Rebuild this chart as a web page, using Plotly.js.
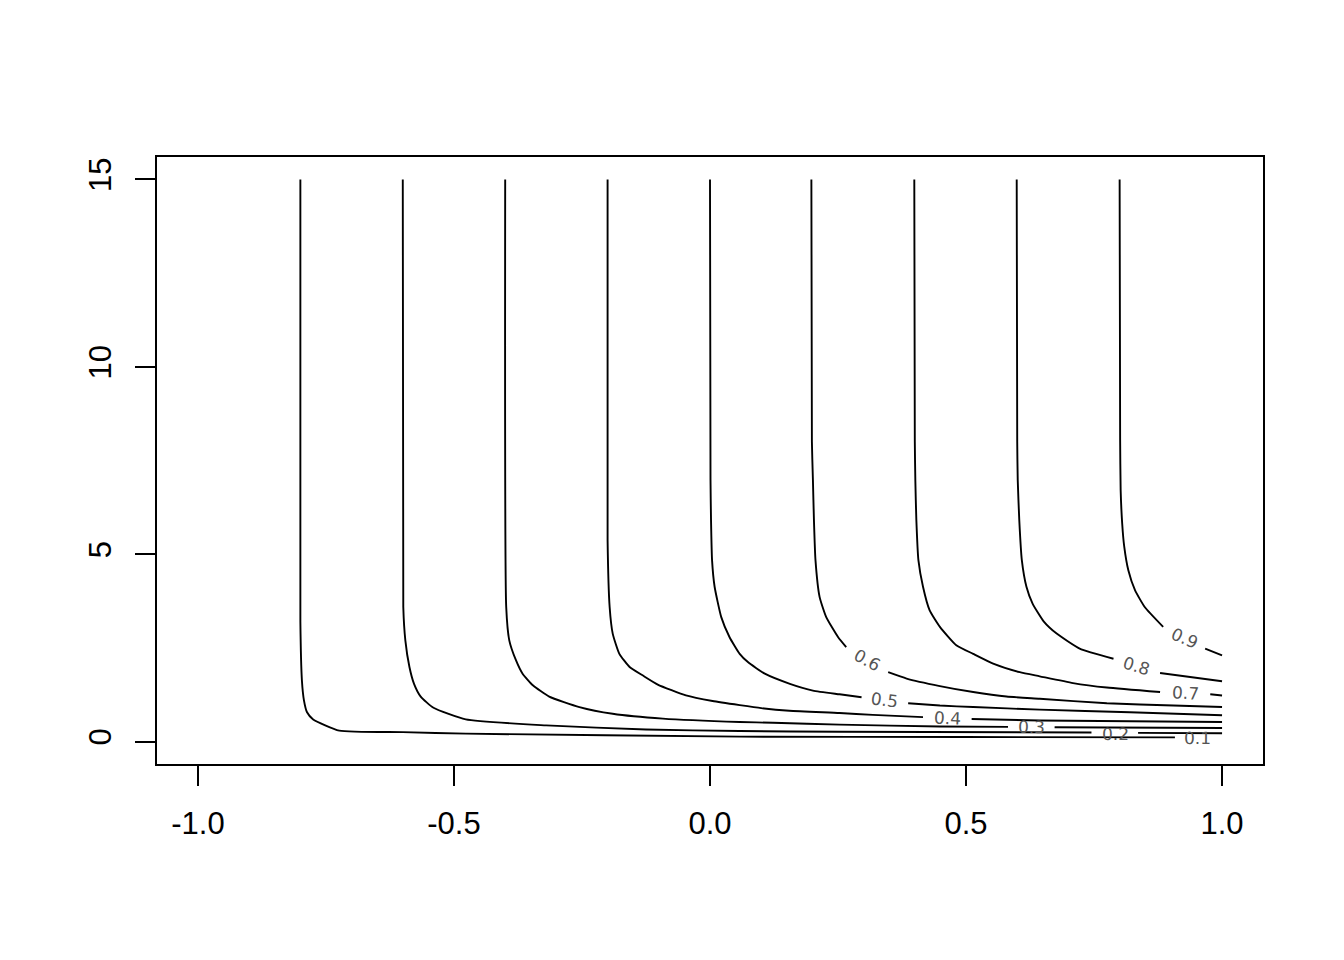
<!DOCTYPE html>
<html>
<head>
<meta charset="utf-8">
<script src="https://cdn.plot.ly/plotly-3.0.1.min.js"></script>
<style>
  html, body { margin: 0; padding: 0; background: #fff; }
  #chart { width: 1344px; height: 960px; }
</style>
</head>
<body>
<div id="chart"></div>
<script>
// contour levels and the points (null = label gap)
const levels = [0.1, 0.2, 0.3, 0.4, 0.5, 0.6, 0.7, 0.8, 0.9];

const x01 = [-0.800, -0.800, -0.797, -0.793, -0.787, -0.775, -0.724, -0.600, -0.477, 0.058, 0.500, 0.908];
const y01 = [15, 3.20, 1.63, 1.10, 0.78, 0.59, 0.29, 0.25, 0.21, 0.13, 0.12, 0.11];

const x02 = [-0.600, -0.599, -0.595, -0.587, -0.578, -0.565, -0.540, -0.477, -0.320, -0.125, 0.058, 0.253, 0.745, null, 0.836, 1.0];
const y02 = [15, 3.59, 2.70, 1.99, 1.54, 1.20, 0.90, 0.59, 0.43, 0.32, 0.28, 0.26, 0.24, null, 0.23, 0.22];

const x03 = [-0.400, -0.398, -0.392, -0.379, -0.366, -0.346, -0.314, -0.255, -0.190, -0.092, 0.058, 0.123, 0.253, 0.449, 0.582, null, 0.673, 1.0];
const y03 = [15, 3.59, 2.70, 2.17, 1.81, 1.50, 1.20, 0.92, 0.74, 0.61, 0.52, 0.50, 0.45, 0.40, 0.39, null, 0.38, 0.36];

const x04 = [-0.200, -0.200, -0.196, -0.190, -0.177, -0.157, -0.131, -0.102, -0.047, 0.005, 0.058, 0.100, 0.155, 0.253, 0.318, 0.416, null, 0.511, 0.644, 1.0];
const y04 = [15, 5.37, 3.59, 2.88, 2.34, 1.99, 1.76, 1.52, 1.23, 1.08, 0.97, 0.89, 0.82, 0.76, 0.71, 0.65, null, 0.60, 0.56, 0.52];

const x05 = [0.000, 0.001, 0.002, 0.004, 0.009, 0.022, 0.038, 0.058, 0.074, 0.107, 0.156, 0.201, 0.253, 0.296, null, 0.387, 0.449, 0.514, 0.644, 0.820, 1.0];
const y05 = [15, 6.98, 5.91, 4.84, 4.13, 3.32, 2.79, 2.34, 2.12, 1.81, 1.54, 1.36, 1.26, 1.18, null, 1.02, 0.96, 0.92, 0.85, 0.78, 0.70];

const x06 = [0.198, 0.199, 0.201, 0.203, 0.206, 0.214, 0.227, 0.250, 0.266, null, 0.348, 0.384, 0.449, 0.514, 0.579, 0.644, 0.775, 0.905, 1.0];
const y06 = [15, 8.00, 6.98, 5.91, 4.84, 3.86, 3.32, 2.79, 2.52, null, 1.85, 1.68, 1.48, 1.32, 1.20, 1.14, 1.02, 0.96, 0.92];

const x07 = [0.399, 0.400, 0.401, 0.403, 0.407, 0.416, 0.429, 0.449, 0.481, 0.514, 0.553, 0.605, 0.644, 0.709, 0.775, 0.879, null, 0.977, 1.0];
const y07 = [15, 8.00, 6.98, 5.91, 4.84, 4.13, 3.50, 3.06, 2.57, 2.34, 2.08, 1.85, 1.74, 1.56, 1.44, 1.32, null, 1.26, 1.23];

const x08 = [0.599, 0.600, 0.601, 0.604, 0.609, 0.618, 0.630, 0.652, 0.677, 0.722, 0.788, null, 0.879, 1.0];
const y08 = [15, 8.00, 6.98, 5.91, 4.84, 4.13, 3.68, 3.20, 2.88, 2.48, 2.21, null, 1.83, 1.61];

const x09 = [0.800, 0.801, 0.802, 0.805, 0.809, 0.817, 0.830, 0.849, 0.885, null, 0.967, 1.0];
const y09 = [15, 8.05, 6.71, 5.82, 5.20, 4.57, 4.04, 3.59, 3.06, null, 2.48, 2.30];

// where each level's label sits in its gap
const labelX = [0.952, 0.791, 0.628, 0.463, 0.341, 0.307, 0.928, 0.833, 0.926];
const labelY = [0.10, 0.214, 0.382, 0.623, 1.110, 2.187, 1.294, 2.019, 2.754];

const xTicks = [-1, -0.5, 0, 0.5, 1];
const xTickText = ['-1.0', '-0.5', '0.0', '0.5', '1.0'];
const yTicks = [0, 5, 10, 15];

const lineXs = [x01, x02, x03, x04, x05, x06, x07, x08, x09];
const lineYs = [y01, y02, y03, y04, y05, y06, y07, y08, y09];

const traces = lineXs.map((xs, i) => ({
    x: xs,
    y: lineYs[i],
    type: 'scatter',
    mode: 'lines',
    connectgaps: false,
    line: { color: '#000', width: 1.9, shape: 'spline', smoothing: 0.5 },
    hoverinfo: 'none',
    showlegend: false
}));

// label tilt follows the local slope of each line (degrees, clockwise)
const labelAngle = [0.5, 0.5, 1, 2.4, 7, 28, 3, 17, 24];

const annotations = levels.map((lev, i) => ({
    x: labelX[i],
    y: labelY[i],
    xref: 'x',
    yref: 'y',
    text: lev.toFixed(1),
    showarrow: false,
    textangle: labelAngle[i],
    font: { family: 'DejaVu Sans, sans-serif', size: 17, color: '#555' }
}));

const axisFont = { family: 'Liberation Sans, Arial, sans-serif', size: 31, color: '#000' };

const layout = {
    width: 1344,
    height: 960,
    margin: { l: 157, r: 81, t: 157, b: 196 },
    paper_bgcolor: '#fff',
    plot_bgcolor: '#fff',
    showlegend: false,
    annotations: annotations,
    xaxis: {
        range: [-1.08, 1.08],
        tickmode: 'array',
        tickvals: xTicks,
        ticktext: xTickText,
        ticks: 'outside',
        ticklen: 20,
        tickwidth: 2,
        tickcolor: '#000',
        showline: true,
        mirror: true,
        linecolor: '#000',
        linewidth: 2,
        showgrid: false,
        zeroline: false,
        fixedrange: true,
        tickfont: axisFont,
        ticklabelstandoff: 11
    },
    yaxis: {
        range: [-0.6, 15.6],
        tickmode: 'array',
        tickvals: yTicks,
        ticktext: yTicks.map(String),
        tickangle: -90,
        ticks: 'outside',
        ticklen: 20,
        tickwidth: 2,
        tickcolor: '#000',
        showline: true,
        mirror: true,
        linecolor: '#000',
        linewidth: 2,
        showgrid: false,
        zeroline: false,
        fixedrange: true,
        tickfont: axisFont,
        ticklabelstandoff: 12
    }
};

Plotly.newPlot('chart', traces, layout, { displayModeBar: false, staticPlot: true });
</script>
</body>
</html>
